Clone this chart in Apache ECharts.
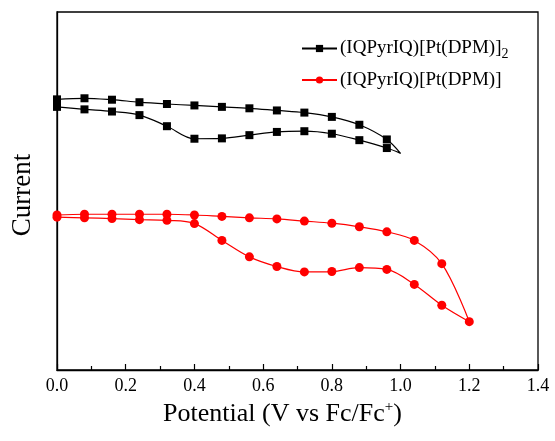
<!DOCTYPE html>
<html>
<head>
<meta charset="utf-8">
<script src="https://cdn.jsdelivr.net/npm/echarts@6/dist/echarts.min.js"></script>
<style>
html,body{margin:0;padding:0;background:#fff;}
#c{width:555px;height:441px;}
</style>
</head>
<body>
<div id="c"></div>
<script>
// Potential (V vs Fc/Fc+) and current (arbitrary units)
var potentialForward = [0, 0.08, 0.16, 0.24, 0.32, 0.40, 0.48, 0.56, 0.64, 0.72, 0.80, 0.88, 0.96];
// Black: (IQPyrIQ)[Pt(DPM)]2
var blackUpper = [75.6, 75.9, 75.5, 74.8, 74.3, 73.9, 73.5, 73.1, 72.5, 71.9, 70.7, 68.5, 64.4];
var blackTip = [1.0, 60.5];
var blackLower = [73.5, 72.8, 72.2, 71.2, 68.1, 64.6, 64.7, 65.6, 66.5, 66.7, 66.0, 64.2, 62.0];
// Red: (IQPyrIQ)[Pt(DPM)]
var redPotential = [0, 0.08, 0.16, 0.24, 0.32, 0.40, 0.48, 0.56, 0.64, 0.72, 0.80, 0.88, 0.96, 1.04, 1.12];
var redUpper = [43.3, 43.5, 43.5, 43.5, 43.5, 43.3, 42.9, 42.5, 42.2, 41.6, 41.0, 40.0, 38.6, 36.2, 29.7];
var redTip = [1.20, 13.5];
var redLower = [42.7, 42.5, 42.3, 42.0, 41.8, 40.9, 36.2, 31.6, 28.9, 27.4, 27.5, 28.6, 28.1, 23.9, 18.1];
var xTicks = [0.0, 0.2, 0.4, 0.6, 0.8, 1.0, 1.2, 1.4];

function loop(xs, up, tip, low, tipMarker) {
  var d = [];
  for (var i = 0; i < xs.length; i++) d.push([xs[i], up[i]]);
  d.push(tipMarker ? [tip[0], tip[1]] : {value: [tip[0], tip[1]], symbol: 'none'});
  for (var j = xs.length - 1; j >= 0; j--) d.push([xs[j], low[j]]);
  return d;
}

var chart = echarts.init(document.getElementById('c'));
var font = 'Liberation Serif';
chart.setOption({
  backgroundColor: '#ffffff',
  animation: false,
  textStyle: {fontFamily: font, color: '#000'},
  grid: {left: 57, right: 17, top: 12, bottom: 71, show: true, borderColor: '#000', borderWidth: 1.3, backgroundColor: 'transparent'},
  legend: {
    orient: 'vertical', left: 296, top: 34, itemWidth: 35, itemHeight: 9, itemGap: 9,
    textStyle: {fontFamily: font, fontSize: 19, color: '#000', padding: [0, 0, 0, -2],
      rich: {sub: {fontFamily: font, fontSize: 14, color: '#000', verticalAlign: 'bottom', padding: [12, 0, 0, 0]}}},
    formatter: function (n) { return n === 'A' ? '(IQPyrIQ)[Pt(DPM)]{sub|2}' : '(IQPyrIQ)[Pt(DPM)]'; },
    data: ['A', 'B']
  },
  xAxis: {
    type: 'value', min: 0, max: 1.4, interval: 0.2,
    name: 'Potential (V vs Fc/Fc{sup|+})', nameLocation: 'middle', nameGap: 30,
    nameTextStyle: {fontFamily: font, fontSize: 26, color: '#000', padding: [0, 30, 0, 0],
      rich: {sup: {fontFamily: font, fontSize: 15, color: '#000', verticalAlign: 'top', padding: [0, 0, 14, 0]}}},
    axisLine: {lineStyle: {color: '#000', width: 1.3}},
    axisTick: {inside: true, length: 6, lineStyle: {color: '#000', width: 1.2}},
    minorTick: {show: true, splitNumber: 2, length: 4, lineStyle: {color: '#000', width: 1.2}},
    splitLine: {show: false},
    axisLabel: {fontFamily: font, fontSize: 18, color: '#000', margin: 7,
      formatter: function (v) { return xTicks.indexOf(Math.round(v*10)/10) >= 0 ? v.toFixed(1) : ''; }}
  },
  yAxis: {
    type: 'value', min: 0, max: 100,
    name: 'Current', nameLocation: 'middle', nameGap: 21,
    nameTextStyle: {fontFamily: font, fontSize: 27, color: '#000', padding: [0, 8, 0, 0]},
    axisLine: {show: true, lineStyle: {color: '#000', width: 1.3}},
    axisTick: {show: false}, axisLabel: {show: false}, splitLine: {show: false}
  },
  series: [
    {name: 'A', type: 'line', smooth: 0.35, symbol: 'rect', symbolSize: 8,
     itemStyle: {color: '#000'}, lineStyle: {color: '#000', width: 1.2},
     data: loop(potentialForward, blackUpper, blackTip, blackLower, false)},
    {name: 'B', type: 'line', smooth: 0.35, symbol: 'circle', symbolSize: 9,
     itemStyle: {color: '#ff0000'}, lineStyle: {color: '#ff0000', width: 1.2},
     data: loop(redPotential, redUpper, redTip, redLower, true)}
  ]
});
</script>
</body>
</html>
